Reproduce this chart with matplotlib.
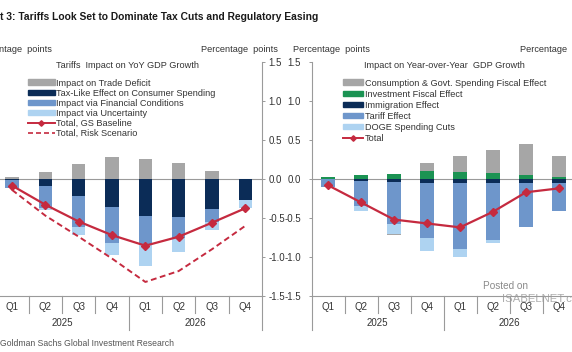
import numpy as np
import matplotlib
matplotlib.use("Agg")
import matplotlib.pyplot as plt
import matplotlib.transforms as mtrans
from matplotlib.patches import Patch
from matplotlib.lines import Line2D

plt.rcParams['font.family'] = ['Liberation Sans', 'DejaVu Sans']
plt.rcParams['axes.unicode_minus'] = False

quarters = ['Q1', 'Q2', 'Q3', 'Q4', 'Q1', 'Q2', 'Q3', 'Q4']
years = ['2025', '2026']

# left panel: tariffs impact on YoY GDP growth (pp)
trade_deficit = [0.02, 0.085, 0.19, 0.285, 0.26, 0.20, 0.105, 0.0]
tax_like = [-0.01, -0.085, -0.22, -0.36, -0.48, -0.49, -0.385, -0.27]
fin_conditions = [-0.10, -0.285, -0.39, -0.46, -0.35, -0.27, -0.165, 0.0]
uncertainty = [0.0, -0.03, -0.11, -0.16, -0.29, -0.18, -0.11, -0.10]
gs_baseline = [-0.085, -0.33, -0.545, -0.72, -0.855, -0.74, -0.56, -0.375]
risk_scenario = [-0.14, -0.47, -0.74, -1.02, -1.32, -1.18, -0.90, -0.60]

# right panel: impact on year-over-year GDP growth (pp)
consumption_fiscal = [0.0, 0.0, -0.015, 0.10, 0.21, 0.30, 0.395, 0.275]
investment_fiscal = [0.025, 0.05, 0.065, 0.10, 0.09, 0.073, 0.055, 0.025]
immigration = [-0.005, -0.02, -0.04, -0.055, -0.055, -0.055, -0.055, -0.055]
tariff = [-0.095, -0.32, -0.54, -0.705, -0.845, -0.725, -0.565, -0.355]
doge_cuts = [0.0, -0.07, -0.125, -0.16, -0.10, -0.04, 0.0, 0.0]
total = [-0.08, -0.30, -0.52, -0.57, -0.62, -0.42, -0.17, -0.12]

C_GRAY = '#A6A6A6'
C_NAVY = '#0B2C57'
C_MED = '#6E96CB'
C_LIGHT = '#AED3F1'
C_RED = '#C52A3F'
C_GREEN = '#1B9353'
C_AXIS = '#9A9A9A'
C_TEXT = '#333333'
FS = 6.6
NARROW = ['Liberation Sans Narrow', 'Liberation Sans']

W, H = 572, 352
fig = plt.figure(figsize=(W / 100, H / 100), dpi=100)
fig.patch.set_facecolor('white')


def fx(x):
    return x / W


def fy(y):
    return 1 - y / H


def stack(ax, series, colors):
    x = np.arange(len(quarters))
    pos = np.zeros(len(x))
    neg = np.zeros(len(x))
    for vals, c in zip(series, colors):
        v = np.array(vals)
        p = np.where(v > 0, v, 0)
        n = np.where(v < 0, v, 0)
        ax.bar(x, p, 0.4, bottom=pos, color=c, linewidth=0, zorder=2)
        ax.bar(x, n, 0.4, bottom=neg, color=c, linewidth=0, zorder=2)
        pos += p
        neg += n


def setup(ax, side):
    ax.set_xlim(-0.5, 7.5)
    ax.set_ylim(-1.5, 1.5)
    ax.set_yticks([-1.5, -1.0, -0.5, 0.0, 0.5, 1.0, 1.5])
    ax.set_yticklabels(['%.1f' % t for t in ax.get_yticks()])
    ax.set_xticks([])
    ax.set_facecolor('none')
    for s in ax.spines.values():
        s.set_visible(False)
    ax.spines['bottom'].set_visible(True)
    ax.spines[side].set_visible(True)
    for s in ('bottom', side):
        ax.spines[s].set_color(C_AXIS)
        ax.spines[s].set_linewidth(0.8)
    if side == 'right':
        ax.yaxis.tick_right()
    ax.tick_params(axis='y', length=2.5, width=0.7, color=C_AXIS,
                   labelsize=FS + 0.4, labelcolor=C_TEXT, pad=2)
    ax.axhline(0, color=C_AXIS, lw=0.8, zorder=1)
    tr = mtrans.blended_transform_factory(ax.transData, ax.transAxes)
    for i in range(1, 8):
        low = -0.145 if i == 4 else -0.073
        ax.add_line(Line2D([i - 0.5, i - 0.5], [0, low], transform=tr,
                           color=C_AXIS, lw=0.8, clip_on=False))
    xe = 7.5 if side == 'right' else -0.5
    ax.add_line(Line2D([xe, xe], [0, -0.145], transform=tr,
                       color=C_AXIS, lw=0.8, clip_on=False))
    for i, q in enumerate(quarters):
        ax.text(i, -0.047, q, transform=tr, ha='center', va='center',
                fontsize=FS + 0.4, color=C_TEXT)
    for j, yr in enumerate(years):
        ax.text(1.5 + 4 * j, -0.115, yr, transform=tr, ha='center', va='center',
                fontsize=FS + 0.4, color=C_TEXT)


def legend(ax, handles, labels, x0, y0, hlen, spacing):
    leg = ax.legend(handles, labels, loc='upper left',
                    bbox_to_anchor=(fx(x0), fy(y0)), bbox_transform=fig.transFigure,
                    frameon=False, fontsize=FS, borderpad=0, borderaxespad=0,
                    labelspacing=spacing, handlelength=hlen, handleheight=0.55,
                    handletextpad=0.15)
    for t in leg.get_texts():
        t.set_color(C_TEXT)


x = np.arange(len(quarters))

# left panel
ax1 = fig.add_axes([fx(-4.6), 56 / H, 266.6 / W, 234 / H])
setup(ax1, 'right')
stack(ax1, [trade_deficit, tax_like, fin_conditions, uncertainty],
      [C_GRAY, C_NAVY, C_MED, C_LIGHT])
ax1.plot(x, gs_baseline, color=C_RED, lw=1.6, marker='D', ms=4.2, zorder=4)
ax1.plot(x, risk_scenario, color=C_RED, lw=1.4, ls=(0, (3, 1.8)), zorder=4)

h1 = [Patch(color=C_GRAY), Patch(color=C_NAVY), Patch(color=C_MED), Patch(color=C_LIGHT),
      Line2D([], [], color=C_RED, lw=1.4, marker='D', ms=2.8),
      Line2D([], [], color=C_RED, lw=1.2, ls=(0, (3, 1.8)))]
l1 = ['Impact on Trade Deficit', 'Tax-Like Effect on Consumer Spending',
      'Impact via Financial Conditions', 'Impact via Uncertainty',
      'Total, GS Baseline', 'Total, Risk Scenario']
legend(ax1, h1, l1, 28, 78.5, 2.9, 0.12)
fig.text(fx(127), fy(66), 'Tariffs  Impact on YoY GDP Growth', fontsize=FS,
         color=C_TEXT, ha='center', va='center')

# right panel
ax2 = fig.add_axes([fx(311.5), 56 / H, 264 / W, 234 / H])
setup(ax2, 'left')
ax2.tick_params(axis='y', pad=5)
stack(ax2, [investment_fiscal, immigration, tariff, doge_cuts, consumption_fiscal],
      [C_GREEN, C_NAVY, C_MED, C_LIGHT, C_GRAY])
ax2.plot(x, total, color=C_RED, lw=1.6, marker='D', ms=4.2, zorder=4)

h2 = [Patch(color=C_GRAY), Patch(color=C_GREEN), Patch(color=C_NAVY), Patch(color=C_MED),
      Patch(color=C_LIGHT), Line2D([], [], color=C_RED, lw=1.4, marker='D', ms=2.8)]
l2 = ['Consumption & Govt. Spending Fiscal Effect', 'Investment Fiscal Effect',
      'Immigration Effect', 'Tariff Effect', 'DOGE Spending Cuts', 'Total']
legend(ax2, h2, l2, 343, 78.5, 2.2, 0.22)
fig.text(fx(444), fy(65), 'Impact on Year-over-Year  GDP Growth', fontsize=FS,
         color=C_TEXT, ha='center', va='center')

# texts around the panels
fig.text(fx(0), fy(17.5), 't 3: Tariffs Look Set to Dominate Tax Cuts and Regulatory Easing',
         fontsize=7.4, fontweight='bold', color='#1a1a1a', va='center', ha='left',
         family=NARROW)
fig.text(fx(52), fy(50), 'Percentage  points', fontsize=FS, color=C_TEXT, ha='right', va='center')
fig.text(fx(278), fy(50), 'Percentage  points', fontsize=FS, color=C_TEXT, ha='right', va='center')
fig.text(fx(293), fy(50), 'Percentage  points', fontsize=FS, color=C_TEXT, ha='left', va='center')
fig.text(fx(520), fy(50), 'Percentage  points', fontsize=FS, color=C_TEXT, ha='left', va='center')
fig.text(fx(0), fy(343), 'Goldman Sachs Global Investment Research', fontsize=6.2,
         color='#555555', ha='left', va='center', family=NARROW)
fig.text(fx(483), fy(286), 'Posted on', fontsize=7.2, color='#8a8a8a', ha='left', va='center')
fig.text(fx(502), fy(299), 'ISABELNET.com', fontsize=8.2, color='#9a9a9a', ha='left',
         va='center', alpha=0.8)

fig.savefig('out.png', dpi=100)
